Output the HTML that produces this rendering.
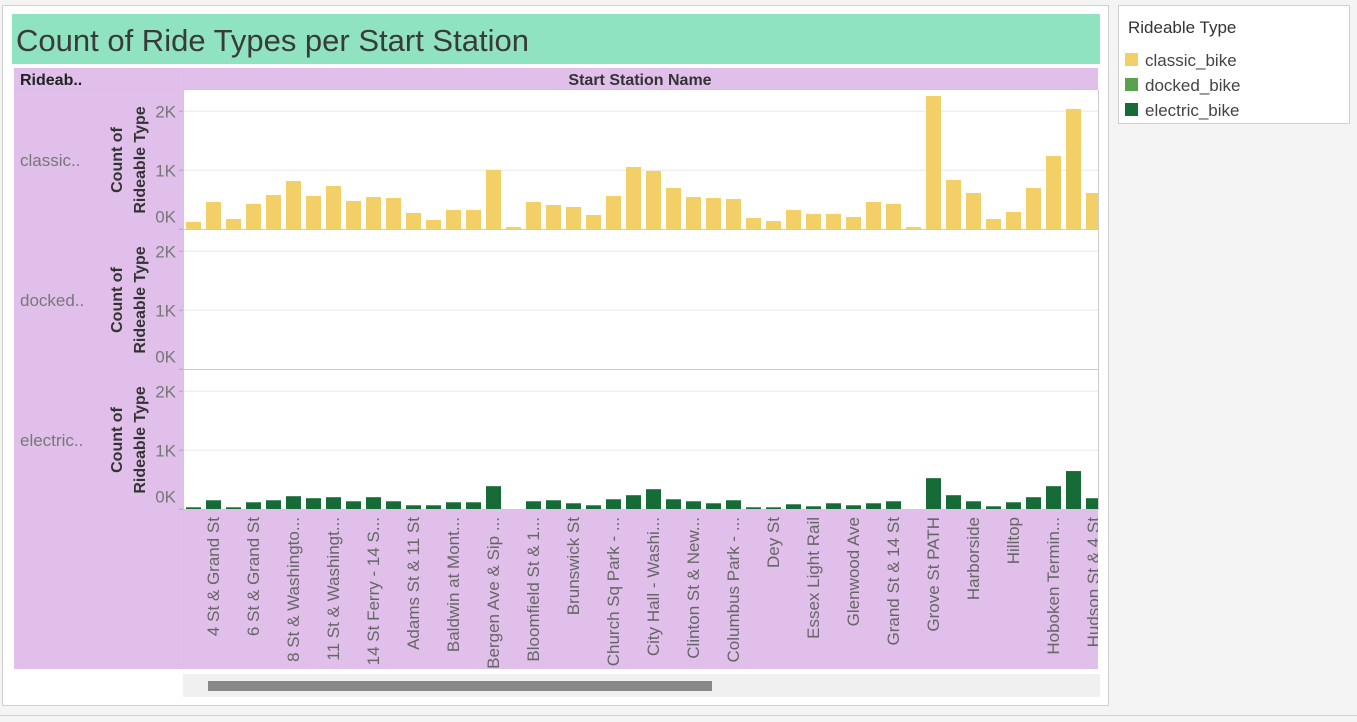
<!DOCTYPE html>
<html><head><meta charset="utf-8"><style>
body{margin:0;background:#f4f4f4;width:1357px;height:717px;overflow:hidden;font-family:"Liberation Sans",sans-serif}
svg text{font-family:"Liberation Sans",sans-serif}
</style></head><body>
<svg id="c" width="1357" height="717" xmlns="http://www.w3.org/2000/svg">
<rect x="0" y="0" width="1357" height="717" fill="#f4f4f4"/>
<rect x="2.5" y="5.5" width="1106" height="700" fill="#fff" stroke="#d0d0d0"/>
<line x1="0" y1="715.5" x2="1357" y2="715.5" stroke="#d0d0d0"/>
<rect x="12" y="14" width="1088" height="50" fill="#8fe3c1"/>
<text x="16" y="51" font-size="31" fill="#3a3a3a">Count of Ride Types per Start Station</text>
<rect x="14" y="68" width="1084" height="601" fill="#e0c0ea"/>
<line x1="183.5" y1="68" x2="183.5" y2="669" stroke="#ccc" />
<line x1="14" y1="89.5" x2="1098" y2="89.5" stroke="#ccc"/>
<text x="20" y="85" font-size="16" font-weight="bold" fill="#222">Rideab..</text>
<text x="640" y="85" font-size="16" font-weight="bold" fill="#333" text-anchor="middle">Start Station Name</text>
<g id="plots"></g>
<rect x="183" y="674" width="917" height="23" fill="#f0f0f0"/>
<rect x="208" y="681" width="504" height="10" fill="#888"/>
<rect x="1118.5" y="5.5" width="231" height="118" fill="#fff" stroke="#d0d0d0"/>
<text x="1128" y="33" font-size="17" fill="#333">Rideable Type</text>
<g id="legend"></g>
</svg>
<script>
const stations=["","4 St & Grand St","","6 St & Grand St","","8 St & Washingto...","","11 St & Washingt...","","14 St Ferry - 14 S...","","Adams St & 11 St","","Baldwin at Mont...","","Bergen Ave & Sip ...","","Bloomfield St & 1...","","Brunswick St","","Church Sq Park - ...","","City Hall - Washi...","","Clinton St & New...","","Columbus Park - ...","","Dey St","","Essex Light Rail","","Glenwood Ave","","Grand St & 14 St","","Grove St PATH","","Harborside","","Hilltop","","Hoboken Termin...","","Hudson St & 4 St"];
const types=["classic..","docked..","electric.."];
const legendNames=["classic_bike","docked_bike","electric_bike"];
const colors=["#f2cf67","#59a14f","#176b37"];
const classicVals=[125,463,175,430,582,819,565,734,480,548,531,277,158,328,328,1006,40,463,412,379,243,565,1056,989,700,548,531,514,192,141,328,260,260,209,463,430,40,2260,836,616,175,294,700,1243,2040,616];
const dockedVals=classicVals.map(()=>0);
const electricVals=[34,153,34,119,153,222,188,205,136,205,136,68,68,119,119,392,0,136,153,102,68,170,239,341,170,136,102,153,34,34,85,51,102,68,102,136,0,528,239,136,51,119,205,392,648,188];
const ticks=[0,1000,2000];
const tickLabels=["0K","1K","2K"];
const series=[classicVals,dockedVals,electricVals];
const NS="http://www.w3.org/2000/svg";
const g=document.getElementById('plots');
function mk(t,a,p){const e=document.createElementNS(NS,t);for(const k in a)e.setAttribute(k,a[k]);(p||g).appendChild(e);return e;}
const rowTop=[90,230,370],rowH=140,px0=184,px1=1098;
function xPos(i){return 186+i*20;}
function yPos(v,r){return rowTop[r]+139.3-v*0.059;}
const clip=mk('clipPath',{id:'pc'});mk('rect',{x:px0,y:0,width:px1-px0,height:717},clip);
for(let r=0;r<3;r++){
  const bg=mk('rect',{x:px0,y:rowTop[r],width:px1-px0,height:rowH,fill:'#fff'});
  
  
  ticks.forEach((t,k)=>{
    const y=yPos(t,r);
    if(t>0){const gl=mk('line',{x1:px0,x2:px1,y1:y,y2:y,stroke:'#efefef','stroke-width':1.5});
      
      }
    mk('line',{x1:179,x2:183,y1:y,y2:y,stroke:'#aaa'});
    const tl=mk('text',{x:176,y:(t===0?y-7:y+6),'font-size':17,fill:'#777','text-anchor':'end'});
    tl.textContent=tickLabels[k];
    
    
  });
  const rl=mk('text',{x:20,y:rowTop[r]+76,'font-size':17,fill:'#777'});
  rl.textContent=types[r];
  
  
  const cy=rowTop[r]+70;
  const at=mk('text',{transform:`translate(138,${cy}) rotate(-90)`,'font-size':16,'font-weight':'bold',fill:'#333','text-anchor':'middle'});
  
  
  const t1=mk('tspan',{x:0,y:-16},at);t1.textContent='Count of';
  const t2=mk('tspan',{x:0,y:7},at);t2.textContent='Rideable Type';
  const bars=mk('g',{'clip-path':'url(#pc)'});
  series[r].forEach((v,i)=>{
    if(v<=0)return;
    const y=yPos(v,r),b=yPos(0,r);
    const bar=mk('rect',{x:xPos(i),y:y,width:15,height:b-y,fill:colors[r]},bars);
    
    
  });
  mk('line',{x1:px0,x2:px1,y1:rowTop[r]+rowH-0.5,y2:rowTop[r]+rowH-0.5,stroke:'#ccc'});
}
mk('line',{x1:183.5,x2:183.5,y1:90,y2:510,stroke:'#ccc'});
mk('line',{x1:1098.5,x2:1098.5,y1:90,y2:510,stroke:'#ccc'});
const lg=mk('g',{'clip-path':'url(#pc)'});
stations.forEach((s,i)=>{
  if(!s)return;
  const x=xPos(i)+13;
  const t=mk('text',{transform:`translate(${x},517) rotate(-90)`,'font-size':17,fill:'#666','text-anchor':'end'},lg);
  t.textContent=s;
  
  
});
const L=document.getElementById('legend');
legendNames.forEach((n,i)=>{
  const y=60+i*25;
  const sw=mk('rect',{x:1125,y:y-7,width:13,height:13,fill:colors[i]},L);
  
  
  const t=mk('text',{x:1145,y:y+6,'font-size':17,fill:'#444'},L);
  t.textContent=n;
  
  
});
</script>
</body></html>
